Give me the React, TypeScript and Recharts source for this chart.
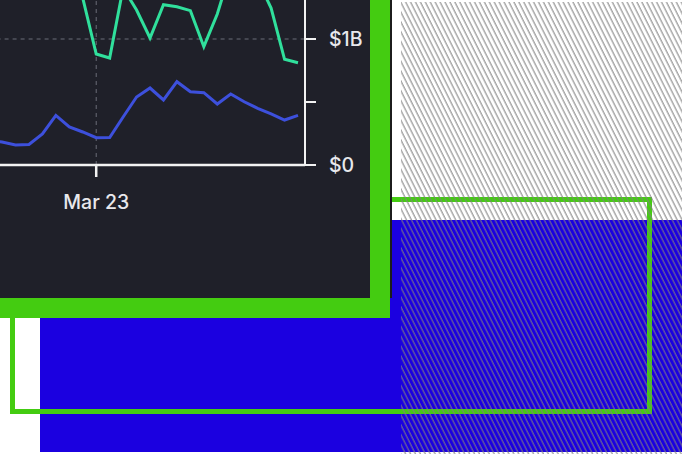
import React from 'react';
import { LineChart, Line, XAxis, YAxis, CartesianGrid } from 'recharts';

const dates = [
  'Mar 15', 'Mar 16', 'Mar 17', 'Mar 18', 'Mar 19', 'Mar 20', 'Mar 21', 'Mar 22',
  'Mar 23', 'Mar 24', 'Mar 25', 'Mar 26', 'Mar 27', 'Mar 28', 'Mar 29', 'Mar 30',
  'Mar 31', 'Apr 1', 'Apr 2', 'Apr 3', 'Apr 4', 'Apr 5', 'Apr 6', 'Apr 7',
];

// values in $B
const greenSeries = [
  1.75, 1.82, 1.7, 1.88, 1.65, 1.78, 1.6, 1.325,
  0.881, 0.849, 1.405, 1.23, 1.008, 1.272, 1.256, 1.225,
  0.939, 1.198, 1.548, 1.627, 1.468, 1.246, 0.839, 0.812,
];

const blueSeries = [
  0.198, 0.183, 0.159, 0.163, 0.246, 0.393, 0.302, 0.262,
  0.217, 0.218, 0.381, 0.54, 0.611, 0.516, 0.661, 0.582,
  0.574, 0.484, 0.563, 0.502, 0.45, 0.405, 0.357, 0.394,
];

const xTicks = ['Mar 23'];
const yTicks = [0, 0.5, 1, 1.5, 2];
const yTickLabels: Record<string, string> = { '0': '$0', '1': '$1B' };

const data = dates.map((d, i) => ({ date: d, green: greenSeries[i], blue: blueSeries[i] }));

const tickStyle = {
  fill: '#e8e8ec',
  fontSize: 19.5,
  fontFamily: 'Inter, "Noto Sans", sans-serif',
  fontWeight: 500,
};

export default function App() {
  return (
    <div
      style={{
        position: 'absolute',
        left: 0,
        top: 0,
        width: 682,
        height: 454,
        overflow: 'hidden',
        background: '#ffffff',
      }}
    >
      <div style={{ position: 'absolute', left: 40, top: 220, width: 642, height: 232, background: '#1b00e0' }} />
      <svg width={682} height={454} style={{ position: 'absolute', left: 0, top: 0 }}>
        <defs>
          <pattern id="hatch" patternUnits="userSpaceOnUse" width={4.4} height={10} patternTransform="rotate(-26.6)">
            <line x1={1} y1={0} x2={1} y2={10} stroke="#7e7e7e" strokeWidth={1} />
          </pattern>
        </defs>
        <rect x={12.5} y={199.5} width={637} height={212} fill="none" stroke="#44cc11" strokeWidth={5} />
        <rect x={401} y={2} width={281} height={452} fill="url(#hatch)" />
      </svg>
      <div style={{ position: 'absolute', left: 0, top: 0, width: 390, height: 318, background: '#44cc11' }} />
      <div style={{ position: 'absolute', left: 390, top: 0, width: 1.5, height: 298, background: '#1c1c1c' }} />
      <div
        style={{
          position: 'absolute',
          left: 0,
          top: 0,
          width: 370,
          height: 298,
          overflow: 'hidden',
          background: '#1f2029',
        }}
      >
        <div style={{ position: 'absolute', left: -40, top: -100 }}>
          <LineChart
            width={415}
            height={325}
            data={data}
            margin={{ top: 13, right: 0, bottom: 0, left: 28.6 }}
          >
            <CartesianGrid
              stroke="#6b6c78"
              strokeDasharray="4 4"
              horizontalValues={[1, 2]}
              verticalValues={xTicks}
            />
            <XAxis
              dataKey="date"
              ticks={xTicks}
              interval={0}
              padding={{ left: 0, right: 7 }}
              height={60}
              tickSize={12}
              tickMargin={18}
              axisLine={{ stroke: '#f2f2f2', strokeWidth: 2.5 }}
              tickLine={{ stroke: '#f2f2f2', strokeWidth: 2.5 }}
              tick={tickStyle}
            />
            <YAxis
              orientation="right"
              width={70}
              domain={[0, 2]}
              ticks={yTicks}
              interval={0}
              tickSize={11}
              tickMargin={13}
              axisLine={{ stroke: '#f2f2f2', strokeWidth: 2 }}
              tickLine={{ stroke: '#f2f2f2', strokeWidth: 2 }}
              tick={tickStyle}
              tickFormatter={(v: number) => yTickLabels[String(v)] ?? ''}
            />
            <Line
              type="linear"
              dataKey="green"
              stroke="#30e09c"
              strokeWidth={3}
              dot={false}
              activeDot={false}
              isAnimationActive={false}
            />
            <Line
              type="linear"
              dataKey="blue"
              stroke="#3d50dc"
              strokeWidth={3}
              dot={false}
              activeDot={false}
              isAnimationActive={false}
            />
          </LineChart>
        </div>
      </div>
    </div>
  );
}
